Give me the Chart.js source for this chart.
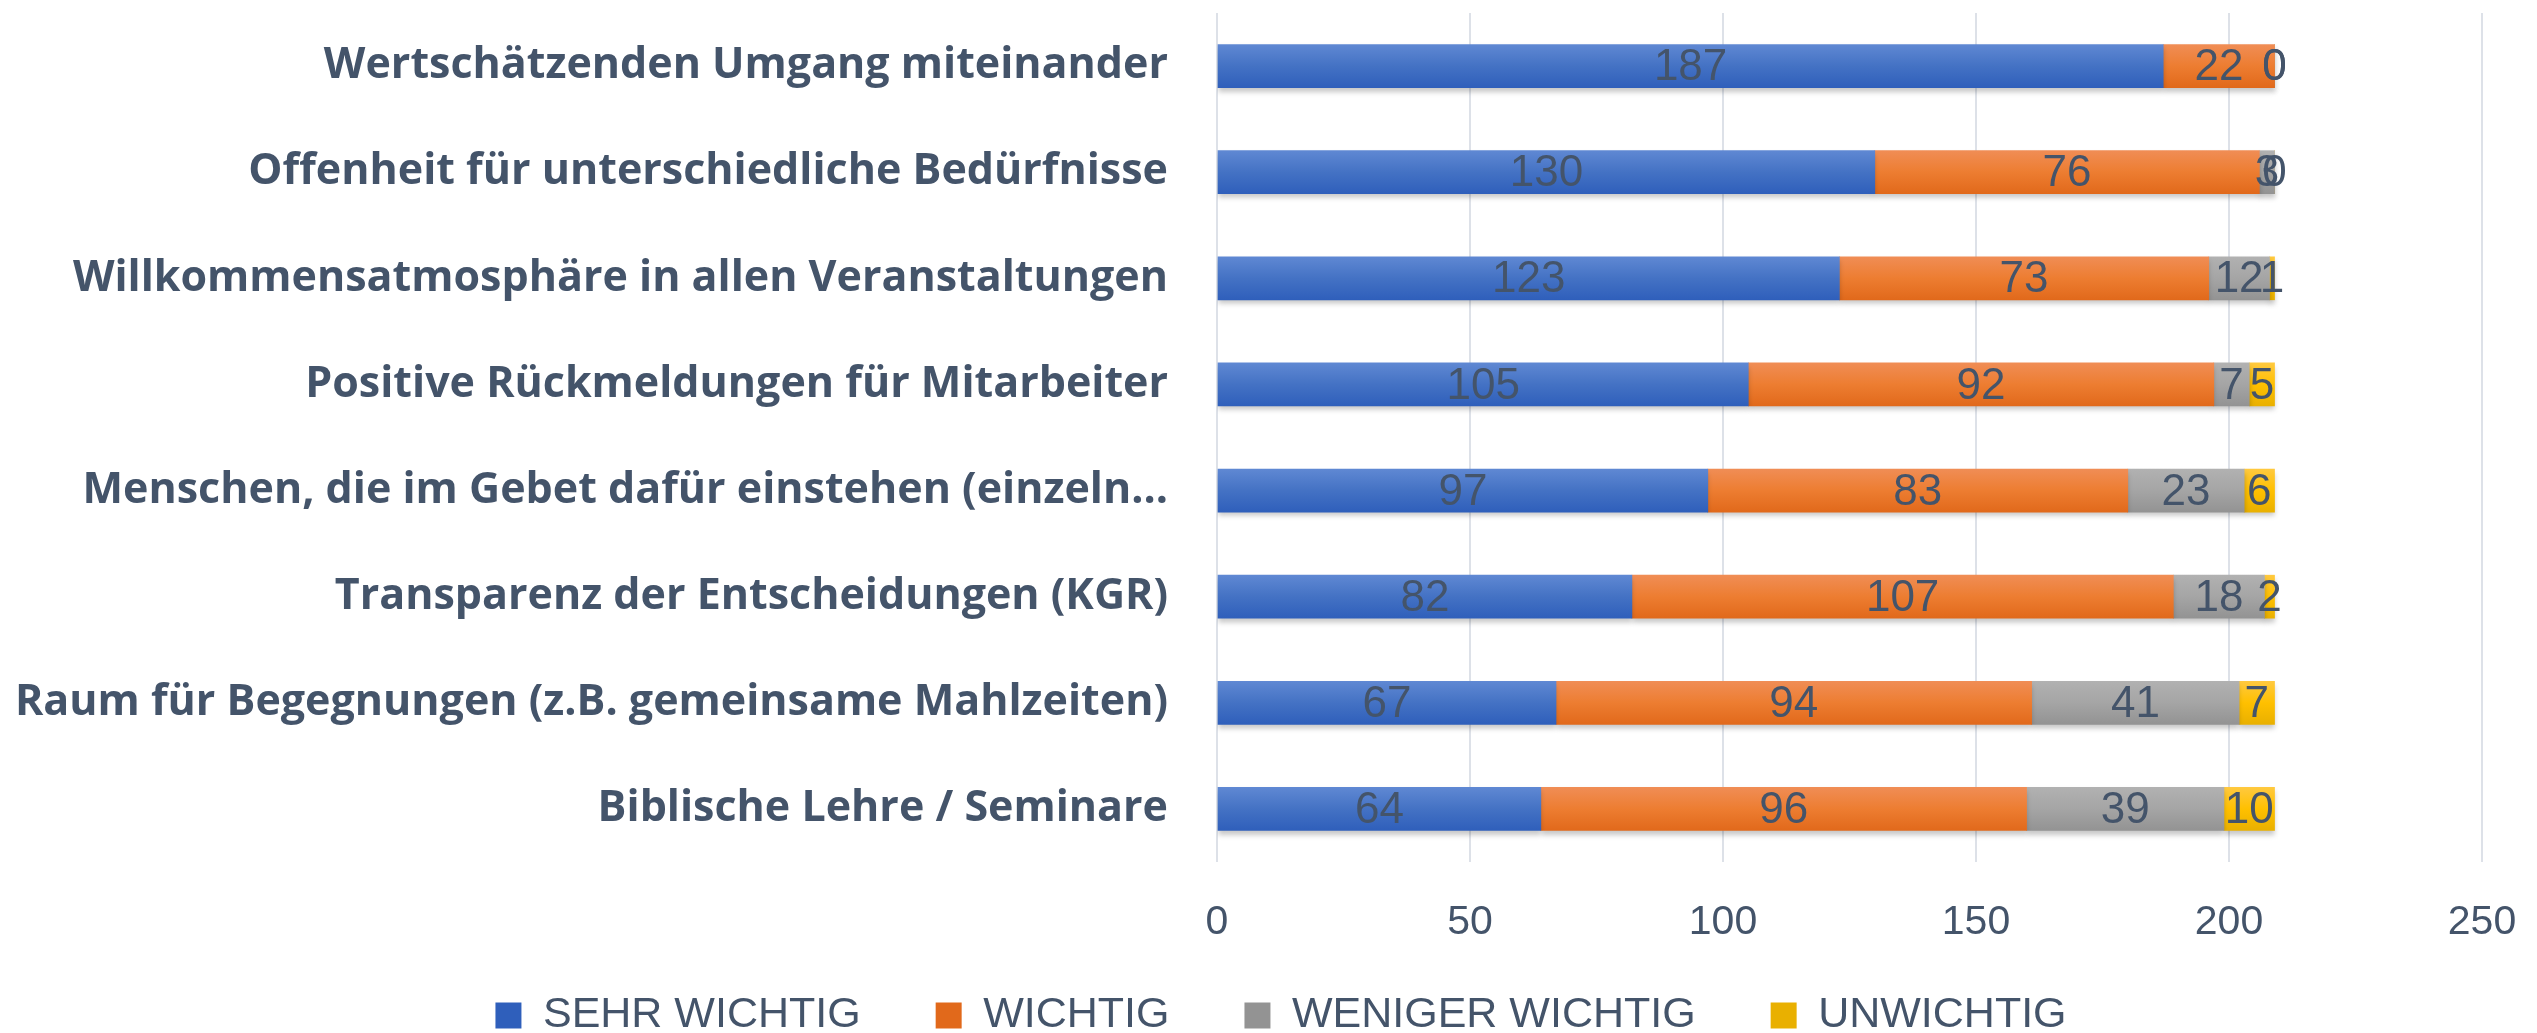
<!DOCTYPE html>
<html>
<head>
<meta charset="utf-8">
<title>Wichtigkeit</title>
<script src="https://cdn.jsdelivr.net/npm/chart.js@4.4.1/dist/chart.umd.min.js"></script>
<style>
	html, body { margin:0; padding:0; background:#fff; overflow:hidden; }
	#wrap { width:2537px; height:1033px; }
</style>
</head>
<body>
<div id="wrap"><canvas id="chart" width="2537" height="1033"></canvas></div>
<script>
// data (each row sums to 209 answers)
const categories = [
	'Wertschätzenden Umgang miteinander',
	'Offenheit für unterschiedliche Bedürfnisse',
	'Willkommensatmosphäre in allen Veranstaltungen',
	'Positive Rückmeldungen für Mitarbeiter',
	'Menschen, die im Gebet dafür einstehen (einzeln…',
	'Transparenz der Entscheidungen (KGR)',
	'Raum für Begegnungen (z.B. gemeinsame Mahlzeiten)',
	'Biblische Lehre / Seminare'
];
const sehrWichtig    = [187, 130, 123, 105, 97, 82, 67, 64];
const wichtig        = [22, 76, 73, 92, 83, 107, 94, 96];
const wenigerWichtig = [0, 3, 12, 7, 23, 18, 41, 39];
const unwichtig      = [0, 0, 1, 5, 6, 2, 7, 10];
const seriesNames = ['SEHR WICHTIG', 'WICHTIG', 'WENIGER WICHTIG', 'UNWICHTIG'];
const xTicks = [0, 50, 100, 150, 200, 250];

const TEXT = '#44546A';
const BAR_H = 43;

// vertical gradient per bar, like the office look
function grad(top, mid, bottom){
	return function(ctx){
		if(ctx.type !== 'data') return mid;
		const c = ctx.chart;
		const ys = c.scales.y;
		if(!ys || ys.top === undefined) return mid;
		const y = ys.getPixelForValue(ctx.dataIndex);
		const g = c.ctx.createLinearGradient(0, y - BAR_H/2, 0, y + BAR_H/2);
		g.addColorStop(0, top);
		g.addColorStop(0.5, mid);
		g.addColorStop(1, bottom);
		return g;
	};
}

const barShadow = {
	id: 'barShadow',
	beforeDatasetsDraw(chart){
		const ctx = chart.ctx;
		ctx.save();
		ctx.shadowColor = 'rgba(0,0,0,0.22)';
		ctx.shadowBlur = 5;
		ctx.shadowOffsetY = 4;
	},
	afterDatasetsDraw(chart){
		chart.ctx.restore();
	}
};

// value labels centred in each segment
const valueLabels = {
	id: 'valueLabels',
	afterDatasetsDraw(chart){
		const ctx = chart.ctx;
		ctx.save();
		ctx.font = '44px "Liberation Sans", Arial, sans-serif';
		ctx.fillStyle = TEXT;
		ctx.textAlign = 'center';
		ctx.textBaseline = 'middle';
		chart.data.datasets.forEach((ds, i) => {
			const meta = chart.getDatasetMeta(i);
			meta.data.forEach((bar, j) => {
				const p = bar.getProps(['x', 'base', 'y'], true);
				const cx = (p.x + p.base) / 2;
				ctx.fillText(String(ds.data[j]), cx, p.y + 2);
			});
		});
		ctx.restore();
	}
};

// legend sits a bit right of centre in the original
const legendShift = {
	id: 'legendShift',
	afterLayout(chart){
		if(chart.legend){ chart.legend.left += 40; chart.legend.right += 40; }
	}
};

const datasets = [
	{ label: seriesNames[0], data: sehrWichtig, backgroundColor: grad('#5f88d3', '#4472c4', '#2f5fbb') },
	{ label: seriesNames[1], data: wichtig, backgroundColor: grad('#f08d55', '#ed7d31', '#e1691b') },
	{ label: seriesNames[2], data: wenigerWichtig, backgroundColor: grad('#b1b1b1', '#a5a5a5', '#939393') },
	{ label: seriesNames[3], data: unwichtig, backgroundColor: grad('#ffc93f', '#ffc000', '#e9b000') }
];
datasets.forEach(d => { d.barThickness = BAR_H; d.borderWidth = 0; });

new Chart(document.getElementById('chart').getContext('2d'), {
	type: 'bar',
	data: { labels: categories, datasets: datasets },
	options: {
		indexAxis: 'y',
		responsive: false,
		animation: false,
		devicePixelRatio: 1,
		layout: { padding: { top: 13, right: 55, left: 0, bottom: 0 } },
		scales: {
			x: {
				stacked: true,
				min: 0, max: 250,
				afterBuildTicks: s => { s.ticks = xTicks.map(v => ({ value: v })); },
				afterFit: s => { s.height = 57; s.paddingLeft = 0; s.paddingRight = 0; },
				grid: { color: '#dde1e8', lineWidth: 2, drawTicks: false },
				border: { display: false },
				// mirror avoids clipping to the short axis box; with mirror the padding is negated
				ticks: { color: TEXT, mirror: true, padding: -85, font: { family: '"Liberation Sans", Arial, sans-serif', size: 41 } }
			},
			y: {
				stacked: true,
				afterFit: s => { s.width = 1217; s.paddingTop = 0; s.paddingBottom = 0; },
				grid: { display: false, drawTicks: false },
				border: { display: false },
				ticks: { color: TEXT, padding: 49, font: { family: '"Open Sans", sans-serif', size: 43, weight: 'bold' } }
			}
		},
		plugins: {
			legend: {
				position: 'bottom',
				maxHeight: 114,
				labels: {
					color: TEXT,
					boxWidth: 26, boxHeight: 26,
					padding: 75,
					font: { family: '"Liberation Sans", Arial, sans-serif', size: 43 }
				}
			},
			tooltip: { enabled: false }
		}
	},
	plugins: [barShadow, valueLabels, legendShift]
});
</script>
</body>
</html>
